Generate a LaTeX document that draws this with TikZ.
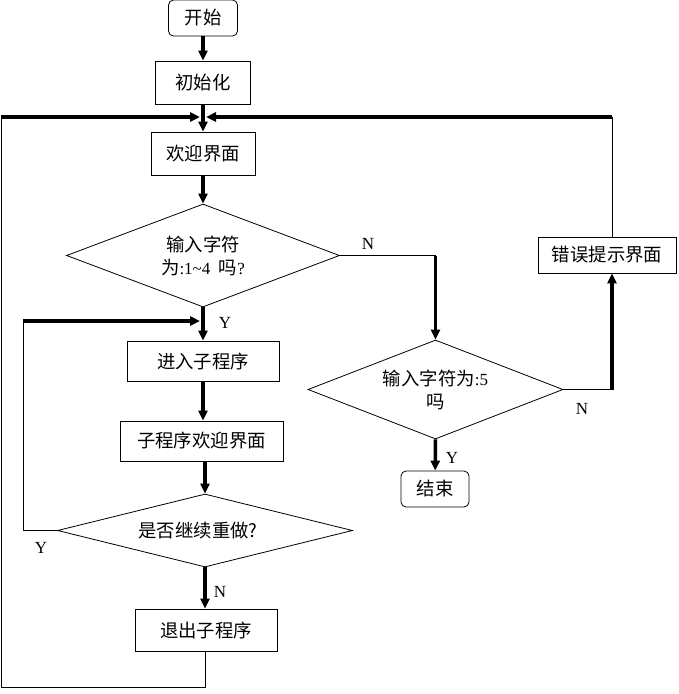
\documentclass[tikz,border=0pt]{standalone}
\usepackage{fontspec}
\setmainfont{Liberation Serif}
\newfontfamily\cjk[Scale=1.08]{Noto Sans CJK SC}
\usetikzlibrary{arrows.meta,shapes.geometric}
\newcommand\myfs{\fontsize{17}{23}\selectfont}
\begin{document}
\begin{tikzpicture}[x=1pt,y=-1pt,
  box/.style={draw, line width=0.8pt, inner sep=0pt, font=\myfs\cjk},
  term/.style={box, rounded corners=5pt},
  dec/.style={draw, diamond, line width=0.8pt, inner sep=0pt, align=center, font=\myfs},
  flow/.style={line width=3.5pt, -{Triangle[length=10pt,width=9pt]}},
  link/.style={line width=0.8pt},
  heavy/.style={line width=3.5pt},
  lab/.style={font=\myfs, inner sep=0pt}]
\useasboundingbox (0,0) rectangle (679,694);
\fill[white] (0,0) rectangle (679,694);
% nodes
\node[term, minimum width=69pt, minimum height=36pt] (start) at (203,18) {开始};
\node[box, minimum width=95pt, minimum height=43pt] (init) at (203,82.5) {初始化};
\node[box, minimum width=104pt, minimum height=43pt] (welcome) at (203,153.5) {欢迎界面};
\node[dec, minimum width=273pt, minimum height=103pt, shape aspect=2.65] (d1) at (203,255.5)
  {{\cjk 输入字符}\\{\cjk 为}:1\textasciitilde 4\ \ {\cjk 吗}?};
\node[box, minimum width=152pt, minimum height=40pt] (enter) at (203,361) {进入子程序};
\node[box, minimum width=163pt, minimum height=40pt] (subw) at (201.5,441) {子程序欢迎界面};
\node[dec, minimum width=295pt, minimum height=73pt, shape aspect=4] (d3) at (205,530.5)
  {\hspace*{-14pt}{\cjk 是否继续重做?}};
\node[box, minimum width=142pt, minimum height=42pt] (exit) at (206,630) {退出子程序};
\node[dec, minimum width=255pt, minimum height=99pt, shape aspect=2.6] (d2) at (435.5,389.5)
  {{\cjk 输入字符为}:5\\{\cjk 吗}};
\node[term, minimum width=68pt, minimum height=36pt] (end) at (435,489) {结束};
\node[box, minimum width=138pt, minimum height=36pt] (err) at (607,255) {错误提示界面};
% coordinates
\coordinate (m) at (203,117);
\coordinate (lp) at (1,117);
\coordinate (rp) at (612,117);
\coordinate (lc) at (1,687);
\coordinate (nc) at (435.5,255.5);
\coordinate (ec) at (612,389.5);
\coordinate (yc) at (23,321);
\coordinate (ym) at (203,321);
% main flow
\draw[flow] (start) -- (init);
\draw[flow] (init) -- (welcome);
\draw[flow] (welcome) -- (d1.north);
\draw[flow] (d1.south) -- (enter);
\draw[flow] (enter) -- (subw.north -| enter);
\draw[flow] (subw.south -| d3.north) -- (d3.north);
\draw[flow] (d3.south) -- (d3.south |- exit.north);
% exit back to top
\draw[link] (exit.south -| d3.south) |- (lc) -- (lp);
\draw[heavy, -{Triangle[length=10pt,width=9pt]}, shorten >=3pt] (lp) -- (m);
% loop yes
\draw[link] (d3.west) -| (yc);
\draw[heavy, -{Triangle[length=10pt,width=9pt]}, shorten >=3pt] (yc) -- (ym);
% N branch of d1
\draw[link] (d1.east) -- (nc);
\draw[flow] (nc) -- (d2.north);
% d2 branches
\draw[flow] (d2.south) -- (end);
\draw[link] (d2.east) -- (ec);
\draw[flow] (ec) -- (ec |- err.south);
\draw[link] (ec |- err.north) -- (rp);
\draw[heavy, -{Triangle[length=10pt,width=9pt]}, shorten >=3pt] (rp) -- (m);
% labels
\node[lab] (n1) at (368,244) {N};
\node[lab] (y1) at (225,323) {Y};
\node[lab] (n2) at (582,409) {N};
\node[lab] (y2) at (452,458) {Y};
\node[lab] (y3) at (41,548) {Y};
\node[lab] (n3) at (220,592) {N};
\end{tikzpicture}
\end{document}
